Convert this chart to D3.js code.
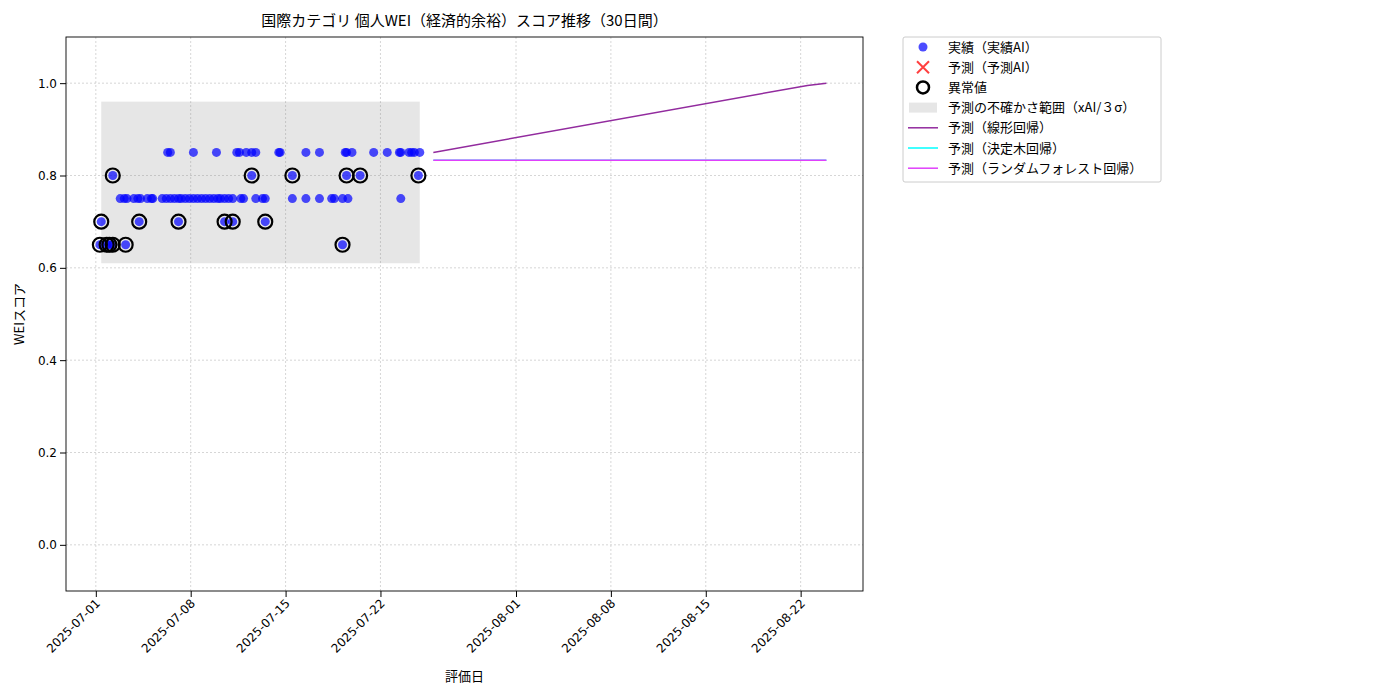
<!DOCTYPE html><html><head><meta charset="utf-8">
<script src="https://cdn.jsdelivr.net/npm/d3@7"></script>
<style>body{margin:0;background:#fff;font-family:"Noto Sans CJK JP","Noto Sans",sans-serif}</style></head><body>
<svg id="c" width="1400" height="700"></svg>
<script>
const baseDate = "2025-07-01";
// actual points: day offset from 2025-07-01 and score
const actualDays = [5.3,5.5,7.2,8.9,10.4,10.6,11.1,11.5,11.8,13.5,13.6,15.5,16.5,18.4,18.5,18.9,20.5,21.5,22.4,22.5,23.1,23.3,23.5,23.9,
 1.25,11.5,14.5,18.5,19.5,23.8,
 1.8,2.1,2.3,2.8,3.1,3.3,3.8,4.1,4.2,4.9,5.2,5.5,5.8,6.1,6.3,6.6,6.9,7.2,7.5,7.8,8.1,8.4,8.7,9.0,9.2,9.5,9.8,10.1,10.7,10.9,11.8,12.3,12.5,14.5,15.5,16.5,17.4,17.6,18.2,18.6,22.5,
 0.4,3.2,6.1,9.5,10.1,12.5,
 0.3,0.8,1.0,1.25,2.2,18.2];
const actualScores = [].concat(Array(24).fill(0.85),Array(6).fill(0.80),Array(41).fill(0.75),Array(6).fill(0.70),Array(6).fill(0.65));
const anomalyDays = [1.25,11.5,14.5,18.5,19.5,23.8, 0.4,3.2,6.1,9.5,10.1,12.5, 0.3,0.8,1.0,1.25,2.2,18.2];
const anomalyScores = [].concat(Array(6).fill(0.80),Array(6).fill(0.70),Array(6).fill(0.65));
const bandDays = [0.4,23.9], bandLow = 0.61, bandHigh = 0.96;
const linDays = [24.9,52.5,53.9], linScores = [0.85,0.995,1.0];
const treeDays = [24.9,53.9], treeScores = [0.833,0.833];
const rfDays = [24.9,53.9], rfScores = [0.833,0.833];
const xTicks = ["2025-07-01","2025-07-08","2025-07-15","2025-07-22","2025-08-01","2025-08-08","2025-08-15","2025-08-22"];
const yTicks = [0.0,0.2,0.4,0.6,0.8,1.0];
const legendLabels = ["実績（実績AI）","予測（予測AI）","異常値","予測の不確かさ範囲（xAI/３σ）","予測（線形回帰）","予測（決定木回帰）","予測（ランダムフォレスト回帰）"];

const b = new Date(baseDate+"T00:00:00");
const D = d => new Date(b.getTime()+d*864e5);
const P = s => new Date(s+"T00:00:00");
const svg = d3.select("#c");
const L=66,R=863,T=37,B=591;
const x = d3.scaleTime().domain([D(-2.2),D(56.6)]).range([L,R]);
const y = d3.scaleLinear().domain([-0.1,1.1]).range([B,T]);
const g = svg.append("g");
// grid
g.selectAll(".gx").data(xTicks).join("line").attr("x1",d=>x(P(d))).attr("x2",d=>x(P(d))).attr("y1",T).attr("y2",B).attr("stroke","#ccc").attr("stroke-dasharray","2,2").attr("stroke-width",0.8);
g.selectAll(".gy").data(yTicks).join("line").attr("y1",d=>y(d)).attr("y2",d=>y(d)).attr("x1",L).attr("x2",R).attr("stroke","#ccc").attr("stroke-dasharray","2,2").attr("stroke-width",0.8);
// band
g.append("rect").attr("x",x(D(bandDays[0]))).attr("width",x(D(bandDays[1]))-x(D(bandDays[0]))).attr("y",y(bandHigh)).attr("height",y(bandLow)-y(bandHigh)).attr("fill","#808080").attr("opacity",0.2);
// lines
const ln = (ds,ss,c)=>g.append("path").attr("d",d3.line().x((d,i)=>x(D(ds[i]))).y((d,i)=>y(ss[i]))(ds)).attr("fill","none").attr("stroke",c).attr("stroke-width",1.5);
ln(linDays,linScores,"#922b9e");
ln(treeDays,treeScores,"#00ffff");
ln(rfDays,rfScores,"#e040fb");
// points
g.selectAll(".p").data(actualDays).join("circle").attr("cx",d=>x(D(d))).attr("cy",(d,i)=>y(actualScores[i])).attr("r",4.5).attr("fill","#0000ff").attr("opacity",0.7);
g.selectAll(".a").data(anomalyDays).join("circle").attr("cx",d=>x(D(d))).attr("cy",(d,i)=>y(anomalyScores[i])).attr("r",7).attr("fill","none").attr("stroke","#000").attr("stroke-width",2.2);
// frame
svg.append("rect").attr("x",L).attr("y",T).attr("width",R-L).attr("height",B-T).attr("fill","none").attr("stroke","#000").attr("stroke-width",0.9);
// axes
const ya = svg.append("g").attr("transform",`translate(${L},0)`).call(d3.axisLeft(y).tickValues(yTicks).tickFormat(d3.format(".1f")).tickSizeOuter(0));
ya.select(".domain").remove();
ya.selectAll("text").attr("font-size",12).attr("fill","#000").attr("font-family","DejaVu Sans");
const xa = svg.append("g").attr("transform",`translate(0,${B})`).call(d3.axisBottom(x).tickValues(xTicks.map(P)).tickFormat(d3.timeFormat("%Y-%m-%d")).tickSizeOuter(0));
xa.select(".domain").remove();
xa.selectAll("text").attr("font-size",12).attr("fill","#000").attr("font-family","DejaVu Sans").attr("text-anchor","end").attr("transform","rotate(-45)").attr("dx","-0.5em").attr("dy","0.3em");
svg.append("text").attr("x",(L+R)/2).attr("y",681).attr("text-anchor","middle").attr("font-size",13).text("評価日");
svg.append("text").attr("transform",`translate(24,${(T+B)/2}) rotate(-90)`).attr("text-anchor","middle").attr("font-size",13).text("WEIスコア");
svg.append("text").attr("x",(L+R)/2).attr("y",26).attr("text-anchor","middle").attr("font-size",15).text("国際カテゴリ 個人WEI（経済的余裕）スコア推移（30日間）");
// legend
const lg = svg.append("g").attr("transform","translate(903,37)");
lg.append("rect").attr("width",258).attr("height",145).attr("fill","#fff").attr("stroke","#ccc").attr("rx",2);
legendLabels.forEach((t,i)=>{
  const yy=10+i*20.2;
  lg.append("text").attr("x",45).attr("y",yy+4.5).attr("font-size",13).text(t);
  const m=lg.append("g").attr("transform",`translate(20,${yy})`);
  if(i==0) m.append("circle").attr("r",4.5).attr("fill","#0000ff").attr("opacity",0.7);
  if(i==1){m.append("path").attr("d","M-6,-6L6,6M-6,6L6,-6").attr("stroke","#ff4040").attr("stroke-width",2);}
  if(i==2) m.append("circle").attr("r",6).attr("fill","none").attr("stroke","#000").attr("stroke-width",2.5);
  if(i==3) m.append("rect").attr("x",-14).attr("y",-5).attr("width",28).attr("height",10).attr("fill","#808080").attr("opacity",0.2);
  if(i>=4) m.append("line").attr("x1",-15).attr("x2",15).attr("stroke",["#922b9e","#00ffff","#e040fb"][i-4]).attr("stroke-width",1.5);
});
</script></body></html>
